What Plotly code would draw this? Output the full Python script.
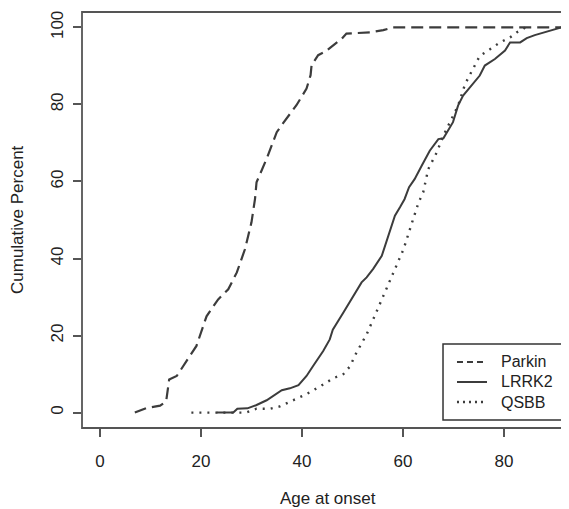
import plotly.graph_objects as go

# Parkin (dashed)
parkin_age = [6.9, 9.2, 11.9, 13.1, 13.7, 15.2, 17.8, 19.1, 21.1, 23.4, 25.4, 27.1, 28.7, 30.0,
              30.7, 31.0, 33.0, 35.0, 36.3, 38.9, 40.9, 41.7, 41.9, 43.2, 44.6, 45.9, 47.9,
              48.8, 53.5, 56.1, 58.0, 95.0]
parkin_pct = [0.0, 1.2, 1.8, 2.9, 8.6, 9.5, 14.7, 17.3, 25.0, 29.4, 32.0, 36.4, 42.4, 49.4,
              55.5, 59.8, 65.9, 72.8, 75.2, 79.8, 84.1, 87.6, 90.2, 92.8, 93.7, 95.0, 97.1,
              98.4, 98.7, 99.3, 100.0, 100.0]

# LRRK2 (solid)
lrrk2_age = [23.1, 26.4, 27.2, 29.2, 30.9, 33.0, 36.0, 37.6, 39.3, 40.9, 42.2, 44.2, 45.5,
             46.1, 48.2, 50.2, 51.8, 52.8, 54.1, 55.8, 57.1, 58.4, 59.4, 60.3, 61.2, 62.3,
             63.7, 65.3, 67.0, 68.0, 69.9, 70.9, 71.9, 73.6, 75.2, 76.2, 78.2, 80.2, 81.2,
             83.2, 84.5, 86.1, 88.4, 90.4, 91.4]
lrrk2_pct = [0.0, 0.0, 1.0, 1.1, 1.9, 3.2, 5.8, 6.3, 7.1, 9.5, 12.1, 16.0, 19.0, 21.5, 26.0,
             30.3, 33.8, 35.1, 37.3, 40.7, 45.9, 51.1, 53.3, 55.4, 58.5, 60.6, 64.1, 68.0,
             71.0, 71.2, 75.4, 79.7, 82.3, 84.9, 87.5, 90.1, 91.8, 94.0, 96.1, 96.1, 97.2,
             98.0, 98.8, 99.6, 100.0]

# QSBB (dotted)
qsbb_age = [18.1, 28.9, 31.0, 33.7, 35.6, 37.6, 40.9, 43.6, 46.2, 48.2, 49.5, 50.8, 52.8,
            54.1, 56.1, 58.1, 60.1, 62.0, 63.1, 64.0, 65.0, 66.7, 68.0, 69.3, 70.9, 72.3,
            73.9, 75.2, 77.2, 79.2, 81.2, 82.5, 83.8, 84.2]
qsbb_pct = [0.0, 0.0, 1.0, 1.0, 1.6, 2.8, 4.8, 6.8, 8.9, 10.0, 12.0, 15.6, 20.3, 24.2, 30.3,
            36.4, 42.4, 50.2, 54.6, 57.2, 63.2, 67.6, 71.9, 75.4, 79.7, 85.3, 89.2, 92.6,
            94.3, 96.1, 97.4, 98.7, 99.6, 100.0]

x_ticks = [0, 20, 40, 60, 80]
y_ticks = [0, 20, 40, 60, 80, 100]

series_names = ["Parkin", "LRRK2", "QSBB"]

LINE = "#3c3c3c"
FRAME = "#555555"
FONT = "Liberation Sans, Arial, Helvetica, sans-serif"
DASH = "12px,6px"
DOT = "2px,6px"

fig = go.Figure()
fig.add_trace(go.Scatter(x=parkin_age, y=parkin_pct, mode="lines", name=series_names[0],
                         showlegend=False,
                         line=dict(color=LINE, width=2.2, dash=DASH)))
fig.add_trace(go.Scatter(x=lrrk2_age, y=lrrk2_pct, mode="lines", name=series_names[1],
                         showlegend=False,
                         line=dict(color=LINE, width=2)))
fig.add_trace(go.Scatter(x=qsbb_age, y=qsbb_pct, mode="lines", name=series_names[2],
                         showlegend=False,
                         line=dict(color=LINE, width=2.4, dash=DOT)))

# manual legend box (paper coordinates)
leg_x0, leg_x1, leg_y0, leg_y1 = 0.7413, 0.9918, 0.0192, 0.2019
row_y = [0.1587, 0.1106, 0.0625]
sample_x0, sample_x1, text_x = 0.7700, 0.8316, 0.8583
styles = [dict(color=LINE, width=2, dash="6px,4px"),
          dict(color=LINE, width=2),
          dict(color=LINE, width=2.4, dash="2px,4px")]

shapes = [dict(type="rect", xref="paper", yref="paper", x0=0, x1=1.03, y0=0, y1=1,
               line=dict(color=FRAME, width=1.8), layer="above"),
          dict(type="rect", xref="paper", yref="paper", x0=leg_x0, x1=leg_x1,
               y0=leg_y0, y1=leg_y1, line=dict(color="#333333", width=1.5),
               fillcolor="white", layer="above")]
annotations = [
    dict(text="Age at onset", xref="paper", yref="paper", x=0.5, y=0,
         xanchor="center", yanchor="middle", yshift=-70, xshift=2, showarrow=False,
         font=dict(size=17)),
    dict(text="Cumulative Percent", xref="paper", yref="paper", x=0, y=0.5,
         xanchor="center", yanchor="middle", xshift=-65, textangle=-90,
         showarrow=False, font=dict(size=17)),
]
for name, yy, st in zip(series_names, row_y, styles):
    shapes.append(dict(type="line", xref="paper", yref="paper", x0=sample_x0, x1=sample_x1,
                       y0=yy, y1=yy, line=st, layer="above"))
    annotations.append(dict(text=name, xref="paper", yref="paper", x=text_x, y=yy,
                            xanchor="left", yanchor="middle", showarrow=False,
                            borderpad=0, font=dict(size=16)))

fig.update_layout(
    width=561, height=501,
    margin=dict(l=74, r=0, t=4, b=81),
    paper_bgcolor="white", plot_bgcolor="white",
    font=dict(family=FONT, size=17, color="#222222"),
    showlegend=False,
    xaxis=dict(range=[-3.56, 92.87], tickvals=x_ticks, ticks="outside", ticklen=8,
               tickwidth=1.5, tickcolor=FRAME, showgrid=False, zeroline=False,
               showline=False, ticklabelstandoff=10),
    yaxis=dict(range=[-4, 104], tickvals=y_ticks, ticks="outside", ticklen=8,
               tickwidth=1.5, tickcolor=FRAME, showgrid=False, zeroline=False,
               showline=False, tickangle=-90, ticklabelstandoff=3),
    shapes=shapes,
    annotations=annotations,
)

fig.write_html("out.html")
